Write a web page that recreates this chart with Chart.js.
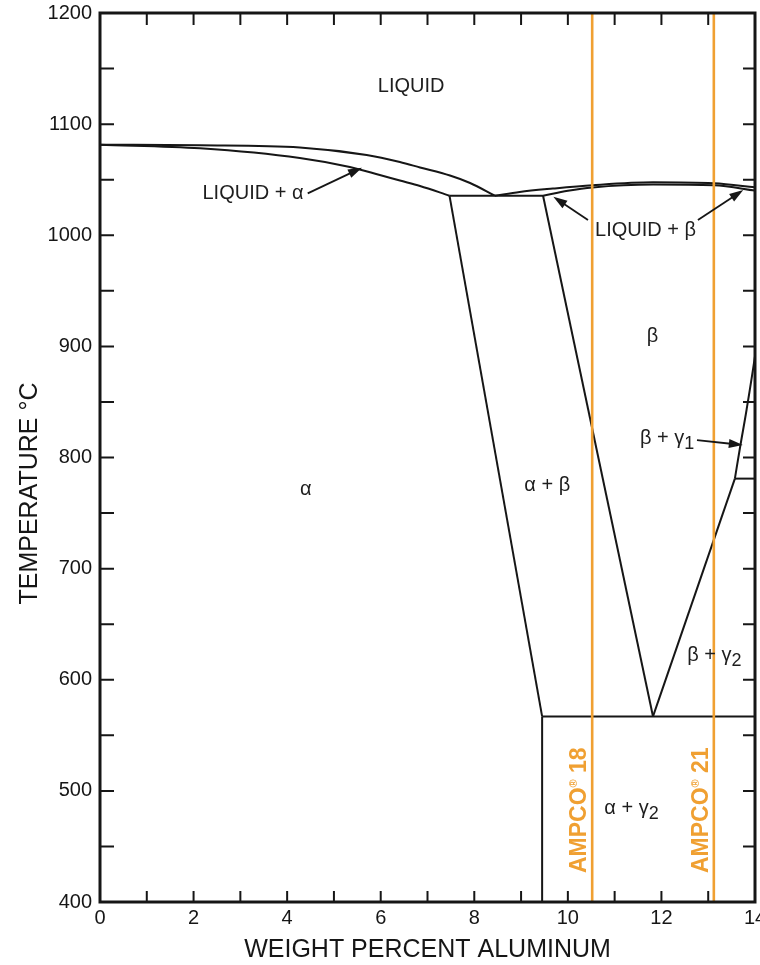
<!DOCTYPE html>
<html>
<head>
<meta charset="utf-8">
<script src="https://cdn.jsdelivr.net/npm/chart.js@4.4.1/dist/chart.umd.min.js"></script>
<style>
  html, body { margin: 0; padding: 0; background: #fff; overflow: hidden; }
  canvas { display: block; }
</style>
</head>
<body>
<canvas id="phaseChart" width="800" height="965" style="width:800px;height:965px"></canvas>
<script>
// Cu-Al phase diagram, copper-rich side

// liquidus / solidus of alpha
const liqAlphaX = [0, 2.14, 4.27, 5.70, 6.41, 6.84, 7.48, 7.91, 8.44];
const liqAlphaT = [1081.5, 1081, 1079, 1072.2, 1065.9, 1061, 1053.7, 1047, 1035.6];
const solAlphaX = [0, 2.14, 4.27, 5.34, 5.98, 6.41, 6.84, 7.47];
const solAlphaT = [1081.5, 1078.2, 1069.5, 1061.4, 1054.2, 1049.2, 1044.3, 1035.6];

// liquidus / solidus of beta
const liqBetaX = [8.44, 8.97, 9.68, 10.53, 11.82, 13.12, 14.04];
const liqBetaT = [1035.6, 1039, 1042, 1045, 1047.6, 1046.7, 1043];
const solBetaX = [9.47, 10.0, 10.53, 11.82, 13.12, 14.04];
const solBetaT = [1035.6, 1040, 1043, 1045.6, 1045, 1040];

// straight phase boundaries
const eutecticX = [7.47, 9.47];
const eutecticT = [1035.6, 1035.6];
const alphaBoundX = [7.47, 9.45];
const alphaBoundT = [1035.6, 567];
const betaLeftX = [9.47, 11.82];
const betaLeftT = [1035.6, 567];
const betaRightX = [11.82, 13.57];
const betaRightT = [567, 781];
const betaGamma1X = [13.57, 13.68, 13.82, 14.04, 14.12];
const betaGamma1T = [781, 809, 843, 903, 930];
const iso781X = [13.57, 14.1];
const iso781T = [781, 781];
const eutectoidX = [9.45, 14.1];
const eutectoidT = [567, 567];
const alphaGammaX = [9.45, 9.45];
const alphaGammaT = [567, 400];

// alloy lines
const ampco18X = [10.52, 10.52];
const ampco21X = [13.12, 13.12];
const fullT = [400, 1200];

// arrows [fromX, fromT, toX, toT]
const arrows = [
  [4.44, 1037.7, 5.6, 1060.8],
  [10.43, 1013.7, 9.69, 1034.7],
  [12.78, 1013.7, 13.75, 1040.7],
  [12.76, 815.7, 13.74, 811.2]
];

// region labels, parts: [text, 0 normal | 1 subscript]
const regionLabels = [
  { x: 6.65, y: 1134, parts: [['LIQUID', 0]] },
  { x: 3.27, y: 1038, parts: [['LIQUID + α', 0]] },
  { x: 11.66, y: 1004.5, parts: [['LIQUID + β', 0]] },
  { x: 4.4, y: 771.5, parts: [['α', 0]] },
  { x: 9.56, y: 775, parts: [['α + β', 0]] },
  { x: 11.81, y: 908.5, parts: [['β', 0]] },
  { x: 12.12, y: 817.5, parts: [['β + γ', 0], ['1', 1]] },
  { x: 13.13, y: 622, parts: [['β + γ', 0], ['2', 1]] },
  { x: 11.36, y: 484.4, parts: [['α + γ', 0], ['2', 1]] }
];
const alloyLabels = [
  { x: 10.26, y: 482.6, name: 'AMPCO', num: ' 18' },
  { x: 12.86, y: 482.6, name: 'AMPCO', num: ' 21' }
];
const yTitle = 'TEMPERATURE °C';

const FONT = "'Liberation Sans', Arial, Helvetica, sans-serif";
const INK = '#161616';
const ORANGE = '#f0a032';

function pts(xs, ts) {
  return xs.map((x, i) => ({ x: x, y: ts[i] }));
}

function boundary(xs, ts, smooth) {
  return {
    data: pts(xs, ts),
    showLine: true,
    borderColor: INK,
    borderWidth: 2,
    pointRadius: 0,
    fill: false,
    tension: 0,
    cubicInterpolationMode: smooth ? 'monotone' : 'default'
  };
}

function alloyLine(xs) {
  return {
    data: pts(xs, fullT),
    showLine: true,
    borderColor: ORANGE,
    borderWidth: 2.6,
    pointRadius: 0,
    fill: false
  };
}

function drawParts(ctx, parts, cx, cy, size, color) {
  let total = 0;
  const widths = parts.map(p => {
    ctx.font = (p[1] === 1 ? size * 0.9 : size) + 'px ' + FONT;
    const w = ctx.measureText(p[0]).width;
    total += w;
    return w;
  });
  let x = cx - total / 2;
  ctx.fillStyle = color;
  ctx.textAlign = 'left';
  ctx.textBaseline = 'middle';
  parts.forEach((p, i) => {
    ctx.font = (p[1] === 1 ? size * 0.9 : size) + 'px ' + FONT;
    ctx.fillText(p[0], x, cy + (p[1] === 1 ? 6 : 0));
    x += widths[i];
  });
}

function drawArrow(ctx, x1, y1, x2, y2) {
  const a = Math.atan2(y2 - y1, x2 - x1);
  const L = 14, W = 4.5;
  const c = Math.cos(a), s = Math.sin(a);
  ctx.beginPath();
  ctx.moveTo(x1, y1);
  ctx.lineTo(x2 - L * 0.7 * c, y2 - L * 0.7 * s);
  ctx.stroke();
  ctx.beginPath();
  ctx.moveTo(x2, y2);
  ctx.lineTo(x2 - L * c + W * s, y2 - L * s - W * c);
  ctx.lineTo(x2 - L * c - W * s, y2 - L * s + W * c);
  ctx.closePath();
  ctx.fill();
}

const decor = {
  id: 'decor',
  afterDraw(chart) {
    const ctx = chart.ctx;
    const xs = chart.scales.x, ys = chart.scales.y;
    const area = chart.chartArea;
    ctx.save();

    // inward ticks
    ctx.strokeStyle = INK;
    ctx.lineWidth = 2;
    xs.ticks.forEach(t => {
      const px = xs.getPixelForValue(t.value);
      ctx.beginPath();
      ctx.moveTo(px, area.bottom); ctx.lineTo(px, area.bottom - 11);
      ctx.moveTo(px, area.top); ctx.lineTo(px, area.top + 12);
      ctx.stroke();
    });
    ys.ticks.forEach(t => {
      const py = ys.getPixelForValue(t.value);
      ctx.beginPath();
      ctx.moveTo(area.left, py); ctx.lineTo(area.left + 14, py);
      ctx.moveTo(area.right, py); ctx.lineTo(area.right - 12, py);
      ctx.stroke();
    });

    // frame
    ctx.lineWidth = 3;
    ctx.strokeRect(area.left, area.top, area.right - area.left, area.bottom - area.top);

    // arrows
    ctx.lineWidth = 1.8;
    ctx.fillStyle = INK;
    arrows.forEach(a => {
      drawArrow(ctx, xs.getPixelForValue(a[0]), ys.getPixelForValue(a[1]),
                xs.getPixelForValue(a[2]), ys.getPixelForValue(a[3]));
    });

    // region labels
    regionLabels.forEach(l => {
      drawParts(ctx, l.parts, xs.getPixelForValue(l.x), ys.getPixelForValue(l.y), 20, '#1e1e1e');
    });

    // alloy labels, rotated
    alloyLabels.forEach(l => {
      ctx.save();
      ctx.translate(xs.getPixelForValue(l.x), ys.getPixelForValue(l.y));
      ctx.rotate(-Math.PI / 2);
      ctx.font = 'bold 23px ' + FONT;
      const w1 = ctx.measureText(l.name).width;
      const w3 = ctx.measureText(l.num).width;
      ctx.font = 'bold 11px ' + FONT;
      const w2 = ctx.measureText('®').width;
      let x = -(w1 + w2 + w3) / 2;
      ctx.fillStyle = ORANGE;
      ctx.textAlign = 'left';
      ctx.textBaseline = 'middle';
      ctx.font = 'bold 23px ' + FONT;
      ctx.fillText(l.name, x, 0);
      x += w1;
      ctx.font = 'bold 11px ' + FONT;
      ctx.fillText('®', x, -6);
      x += w2;
      ctx.font = 'bold 23px ' + FONT;
      ctx.fillText(l.num, x, 0);
      ctx.restore();
    });

    // y axis title
    ctx.save();
    ctx.translate(30, (area.top + area.bottom) / 2 + 36);
    ctx.rotate(-Math.PI / 2);
    ctx.font = '25px ' + FONT;
    ctx.fillStyle = INK;
    ctx.textAlign = 'center';
    ctx.textBaseline = 'middle';
    ctx.fillText(yTitle, 0, 0);
    ctx.restore();

    ctx.restore();
  }
};

new Chart(document.getElementById('phaseChart'), {
  type: 'scatter',
  data: {
    datasets: [
      alloyLine(ampco18X),
      alloyLine(ampco21X),
      boundary(liqAlphaX, liqAlphaT, true),
      boundary(solAlphaX, solAlphaT, true),
      boundary(liqBetaX, liqBetaT, true),
      boundary(solBetaX, solBetaT, true),
      boundary(eutecticX, eutecticT),
      boundary(alphaBoundX, alphaBoundT),
      boundary(betaLeftX, betaLeftT),
      boundary(betaRightX, betaRightT),
      boundary(betaGamma1X, betaGamma1T, true),
      boundary(iso781X, iso781T),
      boundary(eutectoidX, eutectoidT),
      boundary(alphaGammaX, alphaGammaT)
    ]
  },
  options: {
    responsive: false,
    animation: false,
    devicePixelRatio: 1,
    layout: { padding: { top: 13, right: 45, bottom: 0, left: 0 } },
    plugins: {
      legend: { display: false },
      tooltip: { enabled: false }
    },
    scales: {
      x: {
        type: 'linear',
        min: 0,
        max: 14,
        border: { display: false },
        grid: { display: false, drawTicks: false },
        ticks: {
          stepSize: 1,
          autoSkip: false,
          maxRotation: 0,
          padding: 4,
          color: INK,
          font: { family: FONT, size: 20 },
          callback: v => (v % 2 === 0 ? v : '')
        },
        title: {
          display: true,
          text: 'WEIGHT PERCENT ALUMINUM',
          color: INK,
          font: { family: FONT, size: 25 },
          padding: { top: 0, bottom: 0 }
        },
        afterFit: s => { s.height = 63; s.paddingLeft = 0; s.paddingRight = 0; }
      },
      y: {
        type: 'linear',
        min: 400,
        max: 1200,
        border: { display: false },
        grid: { display: false, drawTicks: false },
        ticks: {
          stepSize: 50,
          autoSkip: false,
          padding: 8,
          color: INK,
          font: { family: FONT, size: 20 },
          callback: v => (v % 100 === 0 ? v : '')
        },
        afterFit: s => { s.width = 100; s.paddingTop = 0; s.paddingBottom = 0; }
      }
    }
  },
  plugins: [decor]
});
</script>
</body>
</html>
